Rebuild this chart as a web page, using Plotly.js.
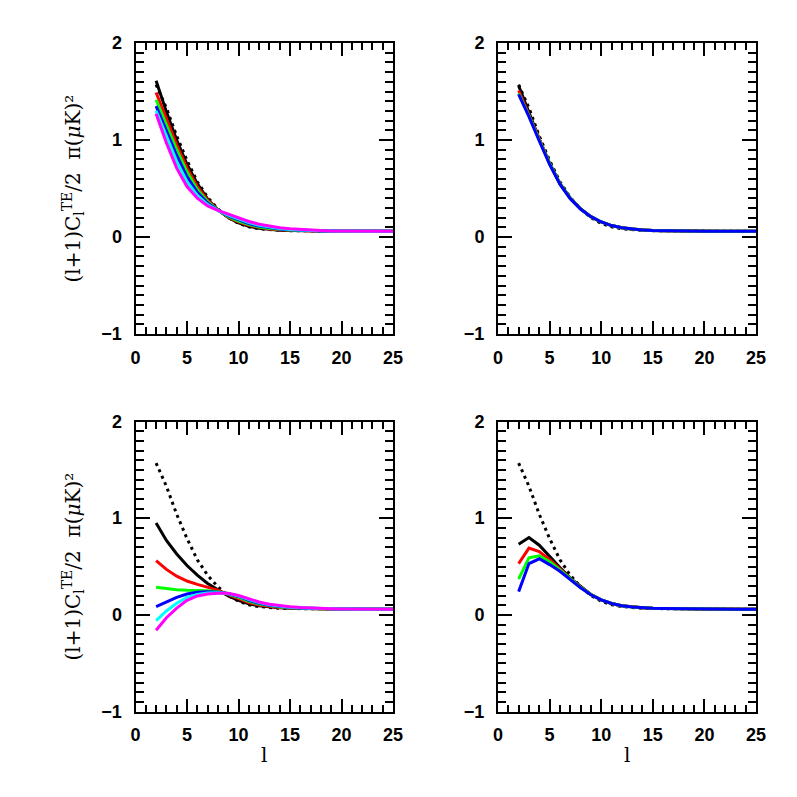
<!DOCTYPE html>
<html>
<head>
<meta charset="utf-8">
<script src="https://cdn.plot.ly/plotly-3.0.1.min.js"></script>
<style>
  html, body { margin: 0; padding: 0; background: #fff; }
  #plot { width: 797px; height: 797px; }
</style>
</head>
<body>
<div id="plot"></div>
<script>
var ell = [2, 3, 4, 5, 6, 7, 8, 9, 10, 11, 12, 13, 14, 15, 16, 17, 18, 19, 20, 21, 22, 23, 24, 25];

// fiducial model (dotted), same in every panel
var fid = [1.57, 1.33, 1.04, 0.79, 0.57, 0.41, 0.29, 0.20, 0.14, 0.105, 0.085, 0.074, 0.068, 0.065, 0.063, 0.062, 0.061, 0.061, 0.060, 0.060, 0.059, 0.059, 0.058, 0.058];

// top left
var tl_black   = [1.61, 1.29, 1.00, 0.75, 0.55, 0.39, 0.28, 0.20, 0.145, 0.11, 0.09, 0.078, 0.07, 0.066, 0.064, 0.062, 0.061, 0.061, 0.060, 0.060, 0.059, 0.059, 0.058, 0.058];
var tl_red     = [1.49, 1.21, 0.95, 0.71, 0.52, 0.38, 0.28, 0.205, 0.155, 0.12, 0.098, 0.083, 0.074, 0.068, 0.065, 0.063, 0.062, 0.061, 0.060, 0.060, 0.059, 0.059, 0.058, 0.058];
var tl_green   = [1.415, 1.15, 0.90, 0.67, 0.49, 0.365, 0.278, 0.21, 0.163, 0.128, 0.104, 0.088, 0.078, 0.071, 0.066, 0.064, 0.062, 0.061, 0.060, 0.060, 0.059, 0.059, 0.058, 0.058];
var tl_blue    = [1.35, 1.09, 0.84, 0.62, 0.46, 0.35, 0.276, 0.218, 0.174, 0.138, 0.112, 0.094, 0.082, 0.074, 0.068, 0.065, 0.063, 0.062, 0.061, 0.060, 0.059, 0.059, 0.058, 0.058];
var tl_cyan    = [1.30, 1.03, 0.78, 0.57, 0.43, 0.335, 0.275, 0.226, 0.184, 0.148, 0.12, 0.10, 0.087, 0.078, 0.071, 0.067, 0.064, 0.062, 0.061, 0.060, 0.059, 0.059, 0.058, 0.058];
var tl_magenta = [1.27, 0.97, 0.71, 0.52, 0.40, 0.32, 0.275, 0.235, 0.195, 0.16, 0.132, 0.11, 0.095, 0.084, 0.076, 0.07, 0.066, 0.063, 0.061, 0.060, 0.059, 0.059, 0.058, 0.058];

// top right
var tr_black = [1.56, 1.28, 1.01, 0.76, 0.55, 0.40, 0.29, 0.21, 0.155, 0.118, 0.095, 0.081, 0.073, 0.068, 0.065, 0.063, 0.062, 0.061, 0.060, 0.060, 0.059, 0.059, 0.058, 0.058];
var tr_red   = [1.51, 1.26, 1.00, 0.76, 0.55, 0.40, 0.29, 0.21, 0.155, 0.118, 0.095, 0.081, 0.073, 0.068, 0.065, 0.063, 0.062, 0.061, 0.060, 0.060, 0.059, 0.059, 0.058, 0.058];
var tr_green = [1.48, 1.25, 1.00, 0.76, 0.55, 0.40, 0.29, 0.21, 0.155, 0.118, 0.095, 0.081, 0.073, 0.068, 0.065, 0.063, 0.062, 0.061, 0.060, 0.060, 0.059, 0.059, 0.058, 0.058];
var tr_blue  = [1.47, 1.24, 0.99, 0.75, 0.545, 0.395, 0.288, 0.21, 0.155, 0.118, 0.095, 0.081, 0.073, 0.068, 0.065, 0.063, 0.062, 0.061, 0.060, 0.060, 0.059, 0.059, 0.058, 0.058];

// bottom left
var bl_black   = [0.95, 0.77, 0.63, 0.51, 0.41, 0.325, 0.26, 0.195, 0.15, 0.115, 0.093, 0.08, 0.072, 0.067, 0.064, 0.062, 0.061, 0.061, 0.060, 0.060, 0.059, 0.059, 0.058, 0.058];
var bl_red     = [0.56, 0.47, 0.40, 0.35, 0.315, 0.285, 0.255, 0.21, 0.165, 0.128, 0.102, 0.086, 0.076, 0.07, 0.066, 0.063, 0.062, 0.061, 0.060, 0.060, 0.059, 0.059, 0.058, 0.058];
var bl_green   = [0.285, 0.27, 0.26, 0.255, 0.255, 0.25, 0.24, 0.215, 0.18, 0.14, 0.112, 0.093, 0.081, 0.073, 0.068, 0.065, 0.063, 0.062, 0.060, 0.060, 0.059, 0.059, 0.058, 0.058];
var bl_blue    = [0.085, 0.13, 0.18, 0.215, 0.235, 0.24, 0.235, 0.218, 0.19, 0.15, 0.12, 0.099, 0.085, 0.076, 0.07, 0.066, 0.063, 0.062, 0.061, 0.060, 0.059, 0.059, 0.058, 0.058];
var bl_cyan    = [-0.06, 0.04, 0.12, 0.18, 0.21, 0.225, 0.228, 0.22, 0.195, 0.158, 0.126, 0.104, 0.089, 0.079, 0.072, 0.067, 0.064, 0.062, 0.061, 0.060, 0.059, 0.059, 0.058, 0.058];
var bl_magenta = [-0.16, -0.03, 0.07, 0.15, 0.195, 0.215, 0.222, 0.222, 0.20, 0.165, 0.133, 0.11, 0.094, 0.083, 0.075, 0.069, 0.066, 0.063, 0.061, 0.060, 0.059, 0.059, 0.058, 0.058];

// bottom right
var br_black = [0.73, 0.80, 0.72, 0.60, 0.49, 0.38, 0.29, 0.21, 0.155, 0.118, 0.095, 0.081, 0.073, 0.068, 0.065, 0.063, 0.062, 0.061, 0.060, 0.060, 0.059, 0.059, 0.058, 0.058];
var br_red   = [0.53, 0.69, 0.655, 0.57, 0.475, 0.375, 0.288, 0.21, 0.155, 0.118, 0.095, 0.081, 0.073, 0.068, 0.065, 0.063, 0.062, 0.061, 0.060, 0.060, 0.059, 0.059, 0.058, 0.058];
var br_green = [0.37, 0.59, 0.61, 0.55, 0.465, 0.37, 0.285, 0.21, 0.155, 0.118, 0.095, 0.081, 0.073, 0.068, 0.065, 0.063, 0.062, 0.061, 0.060, 0.060, 0.059, 0.059, 0.058, 0.058];
var br_blue  = [0.24, 0.53, 0.58, 0.52, 0.45, 0.36, 0.28, 0.207, 0.155, 0.118, 0.095, 0.081, 0.073, 0.068, 0.065, 0.063, 0.062, 0.061, 0.060, 0.060, 0.059, 0.059, 0.058, 0.058];

var yTitle = '(l+1)C<sub>l</sub><sup>TE</sup>/2  π(<i>μ</i>K)²';
var xTitle = 'l';

function line(y, color, xa, ya) {
  return {x: ell, y: y, xaxis: xa, yaxis: ya, type: 'scatter', mode: 'lines',
          line: {color: color, width: 3}, hoverinfo: 'skip'};
}
function dotted(xa, ya) {
  return {x: ell, y: fid, xaxis: xa, yaxis: ya, type: 'scatter', mode: 'lines',
          line: {color: 'black', width: 3, dash: '3px,4px'}, hoverinfo: 'skip'};
}
// empty trace so the mirrored tick axes get drawn
function empty(xa, ya) {
  return {x: [], y: [], xaxis: xa, yaxis: ya, type: 'scatter', mode: 'lines', hoverinfo: 'skip'};
}

var data = [
  dotted('x', 'y'),
  line(tl_black, 'black', 'x', 'y'),
  line(tl_red, '#ff0000', 'x', 'y'),
  line(tl_green, '#00ff00', 'x', 'y'),
  line(tl_blue, '#0000ff', 'x', 'y'),
  line(tl_cyan, '#00ffff', 'x', 'y'),
  line(tl_magenta, '#ff00ff', 'x', 'y'),

  dotted('x2', 'y2'),
  line(tr_black, 'black', 'x2', 'y2'),
  line(tr_red, '#ff0000', 'x2', 'y2'),
  line(tr_green, '#00ff00', 'x2', 'y2'),
  line(tr_blue, '#0000ff', 'x2', 'y2'),

  dotted('x3', 'y3'),
  line(bl_black, 'black', 'x3', 'y3'),
  line(bl_red, '#ff0000', 'x3', 'y3'),
  line(bl_green, '#00ff00', 'x3', 'y3'),
  line(bl_blue, '#0000ff', 'x3', 'y3'),
  line(bl_cyan, '#00ffff', 'x3', 'y3'),
  line(bl_magenta, '#ff00ff', 'x3', 'y3'),

  dotted('x4', 'y4'),
  line(br_black, 'black', 'x4', 'y4'),
  line(br_red, '#ff0000', 'x4', 'y4'),
  line(br_green, '#00ff00', 'x4', 'y4'),
  line(br_blue, '#0000ff', 'x4', 'y4'),

  empty('x5', 'y'), empty('x', 'y5'),
  empty('x6', 'y2'), empty('x2', 'y6'),
  empty('x7', 'y3'), empty('x3', 'y7'),
  empty('x8', 'y4'), empty('x4', 'y8')
];

var tickFont = {family: 'Liberation Sans, Arial, sans-serif', size: 18, color: 'black', weight: 'bold'};

function xTicks() {
  return {range: [0, 25], tick0: 0, dtick: 5,
          ticks: 'inside', ticklen: 13, tickwidth: 2, tickcolor: 'black',
          minor: {dtick: 1, ticks: 'inside', ticklen: 7, tickwidth: 2, tickcolor: 'black', showgrid: false},
          showgrid: false, zeroline: false, fixedrange: true};
}
function yTicks() {
  return {range: [-1, 2], tick0: 0, dtick: 1,
          ticks: 'inside', ticklen: 14, tickwidth: 2, tickcolor: 'black',
          minor: {dtick: 0.1, ticks: 'inside', ticklen: 8, tickwidth: 2, tickcolor: 'black', showgrid: false},
          showgrid: false, zeroline: false, fixedrange: true};
}
function xax(dom, anchor) {
  return Object.assign(xTicks(), {domain: dom, anchor: anchor,
          showline: true, linewidth: 2, linecolor: 'black', mirror: true,
          tickfont: tickFont, ticklabelstandoff: 6});
}
function yax(dom, anchor) {
  return Object.assign(yTicks(), {domain: dom, anchor: anchor,
          showline: true, linewidth: 2, linecolor: 'black', mirror: true,
          tickfont: tickFont, ticklabelstandoff: 8});
}
// top / right copies carrying the same major and minor ticks
function xTop(over, anchor) {
  return Object.assign(xTicks(), {overlaying: over, anchor: anchor, side: 'top',
          showline: false, showticklabels: false});
}
function yRight(over, anchor) {
  return Object.assign(yTicks(), {overlaying: over, anchor: anchor, side: 'right',
          showline: false, showticklabels: false});
}

var leftX = [135.5 / 797, 393 / 797];
var rightX = [498 / 797, 756 / 797];
var topY = [1 - 334 / 797, 1 - 43 / 797];
var botY = [1 - 711.5 / 797, 1 - 421.5 / 797];

var titleFont = {family: 'DejaVu Serif, serif', size: 20, color: 'black'};

var layout = {
  width: 797, height: 797,
  margin: {l: 0, r: 0, t: 0, b: 0},
  paper_bgcolor: 'white', plot_bgcolor: 'white',
  showlegend: false,
  xaxis: xax(leftX, 'y'), yaxis: yax(topY, 'x'),
  xaxis2: xax(rightX, 'y2'), yaxis2: yax(topY, 'x2'),
  xaxis3: xax(leftX, 'y3'), yaxis3: yax(botY, 'x3'),
  xaxis4: xax(rightX, 'y4'), yaxis4: yax(botY, 'x4'),
  xaxis5: xTop('x', 'y'), yaxis5: yRight('y', 'x'),
  xaxis6: xTop('x2', 'y2'), yaxis6: yRight('y2', 'x2'),
  xaxis7: xTop('x3', 'y3'), yaxis7: yRight('y3', 'x3'),
  xaxis8: xTop('x4', 'y4'), yaxis8: yRight('y4', 'x4'),
  annotations: [
    {text: yTitle, xref: 'paper', yref: 'paper', x: 73 / 797, y: (topY[0] + topY[1]) / 2,
     textangle: -90, showarrow: false, font: titleFont, xanchor: 'center', yanchor: 'middle'},
    {text: yTitle, xref: 'paper', yref: 'paper', x: 73 / 797, y: (botY[0] + botY[1]) / 2,
     textangle: -90, showarrow: false, font: titleFont, xanchor: 'center', yanchor: 'middle'},
    {text: xTitle, xref: 'paper', yref: 'paper', x: (leftX[0] + leftX[1]) / 2, y: 1 - 755 / 797,
     showarrow: false, font: titleFont, xanchor: 'center', yanchor: 'middle'},
    {text: xTitle, xref: 'paper', yref: 'paper', x: (rightX[0] + rightX[1]) / 2, y: 1 - 755 / 797,
     showarrow: false, font: titleFont, xanchor: 'center', yanchor: 'middle'}
  ]
};

Plotly.newPlot('plot', data, layout, {displayModeBar: false, staticPlot: true});
</script>
</body>
</html>
